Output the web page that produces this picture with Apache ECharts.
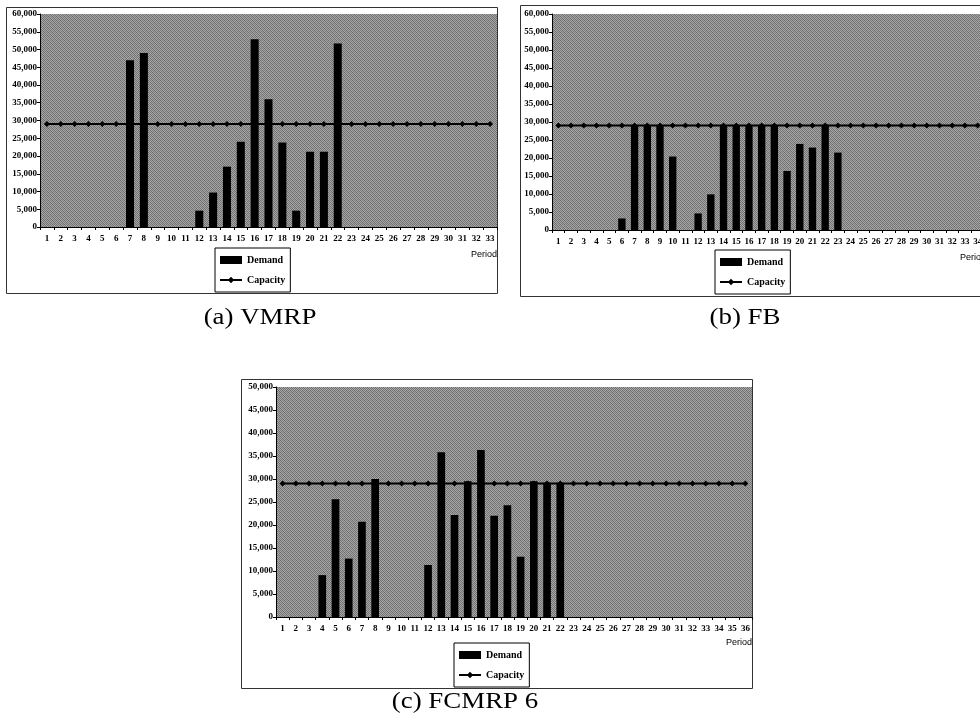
<!DOCTYPE html>
<html>
<head>
<meta charset="utf-8">
<script src="https://cdn.jsdelivr.net/npm/echarts@6/dist/echarts.min.js"></script>
<style>
html,body{margin:0;padding:0;width:980px;height:722px;overflow:hidden;background:#fff;}
#chart{position:absolute;left:0;top:0;width:1000px;height:722px;}
</style>
</head>
<body>
<div id="chart"></div>
<script>
// ---- data ----
const periodsA = ['1','2','3','4','5','6','7','8','9','10','11','12','13','14','15','16','17','18','19','20','21','22','23','24','25','26','27','28','29','30','31','32','33'];
const periodsB = ['1','2','3','4','5','6','7','8','9','10','11','12','13','14','15','16','17','18','19','20','21','22','23','24','25','26','27','28','29','30','31','32','33','34'];
const periodsC = ['1','2','3','4','5','6','7','8','9','10','11','12','13','14','15','16','17','18','19','20','21','22','23','24','25','26','27','28','29','30','31','32','33','34','35','36'];

const demandA = [0,0,0,0,0,0,47000,49000,0,0,0,4600,9700,17000,24000,52900,36000,23800,4600,21200,21200,51700,0,0,0,0,0,0,0,0,0,0,0];
const capacityA = [29000,29000,29000,29000,29000,29000,29000,29000,29000,29000,29000,29000,29000,29000,29000,29000,29000,29000,29000,29000,29000,29000,29000,29000,29000,29000,29000,29000,29000,29000,29000,29000,29000];

const demandB = [0,0,0,0,0,3200,29000,29000,29000,20400,0,4600,9900,29000,29000,29000,29000,29000,16400,23900,22900,29000,21500,0,0,0,0,0,0,0,0,0,0,0];
const capacityB = [29000,29000,29000,29000,29000,29000,29000,29000,29000,29000,29000,29000,29000,29000,29000,29000,29000,29000,29000,29000,29000,29000,29000,29000,29000,29000,29000,29000,29000,29000,29000,29000,29000,29000];

const demandC = [0,0,0,9100,25600,12700,20700,30000,0,0,0,11300,35800,22200,29500,36300,22000,24300,13100,29500,29200,29200,0,0,0,0,0,0,0,0,0,0,0,0,0,0];
const capacityC = [29000,29000,29000,29000,29000,29000,29000,29000,29000,29000,29000,29000,29000,29000,29000,29000,29000,29000,29000,29000,29000,29000,29000,29000,29000,29000,29000,29000,29000,29000,29000,29000,29000,29000,29000,29000];

const yMaxA = 60000, yMaxB = 60000, yMaxC = 50000, yStep = 5000;
const captions = ['(a) VMRP', '(b) FB', '(c) FCMRP 6'];
const axisTitle = 'Period';

// ---- chart ----
const chart = echarts.init(document.getElementById('chart'), null, {renderer:'canvas'});
const serif = 'Liberation Serif';

// halftone-like plot background (regular dither pattern)
const pc = document.createElement('canvas');
pc.width = 4; pc.height = 4;
const pctx = pc.getContext('2d');
const shades = [
  ['#6c6c6c','#a8a8a8','#7a7a7a','#a0a0a0'],
  ['#a4a4a4','#727272','#acacac','#767676'],
  ['#7c7c7c','#a2a2a2','#6e6e6e','#aaaaaa'],
  ['#a6a6a6','#787878','#a0a0a0','#707070']
];
for (let r=0;r<4;r++) for (let c=0;c<4;c++){ pctx.fillStyle = shades[r][c]; pctx.fillRect(c,r,1,1); }
const plotBg = {image: pc, repeat: 'repeat'};

function xAxisFor(idx, cats){
  return {
    type:'category', gridIndex:idx, data:cats, boundaryGap:true,
    axisLine:{show:true, lineStyle:{color:'#000', width:1}},
    axisTick:{show:true, length:3, inside:false, alignWithLabel:false, lineStyle:{color:'#000'}},
    axisLabel:{fontFamily:serif, fontWeight:'bold', fontSize:9, color:'#000', margin:7, interval:0},
    splitLine:{show:false}
  };
}
function yAxisFor(idx, max){
  return {
    type:'value', gridIndex:idx, min:0, max:max, interval:yStep,
    axisLine:{show:true, lineStyle:{color:'#000', width:1}},
    axisTick:{show:true, length:3, inside:false, lineStyle:{color:'#000'}},
    axisLabel:{fontFamily:serif, fontWeight:'bold', fontSize:9, color:'#000', margin:3,
      formatter:v=>v.toLocaleString('en-US')},
    splitLine:{show:false}
  };
}
function barS(idx, data){
  return {name:'Demand', type:'bar', xAxisIndex:idx, yAxisIndex:idx, data:data, barWidth:'58%',
    itemStyle:{color:'#000'}, z:2, animation:false};
}
function lineS(idx, data){
  return {name:'Capacity', type:'line', xAxisIndex:idx, yAxisIndex:idx, data:data,
    symbol:'diamond', symbolSize:6, showSymbol:true,
    lineStyle:{color:'#000', width:2}, itemStyle:{color:'#000'}, z:3, animation:false};
}
function legendFor(left, top){
  return {
    left:left, top:top, orient:'vertical', itemGap:10, itemWidth:22, itemHeight:8,
    padding:[7,5,7,4], borderColor:'#000', borderWidth:1, backgroundColor:'#fff',
    selectedMode:false,
    textStyle:{fontFamily:serif, fontWeight:'bold', fontSize:10, color:'#000'},
    data:[{name:'Demand', icon:'rect'}, {name:'Capacity'}]
  };
}
function frame(x,y,w,h){
  return {type:'rect', shape:{x:x,y:y,width:w,height:h}, style:{fill:null, stroke:'#333', lineWidth:1}, silent:true, z:-10};
}
function caption(text,x,y){
  return {type:'text', x:x, y:y, scaleX:1.12, style:{text:text, font:'24px "Liberation Serif"', fill:'#000', textAlign:'center', textVerticalAlign:'middle'}, silent:true};
}
function ptitle(x,y){
  return {type:'text', x:x, y:y, style:{text:axisTitle, font:'9px "Liberation Sans"', fill:'#000', textAlign:'right', textVerticalAlign:'middle'}, silent:true};
}

const option = {
  animation:false,
  backgroundColor:'#fff',
  grid:[
    {left:40, top:14, width:457, height:213, show:true, backgroundColor:plotBg, borderWidth:0},
    {left:552, top:14, width:432, height:216, show:true, backgroundColor:plotBg, borderWidth:0},
    {left:276, top:387, width:476, height:230, show:true, backgroundColor:plotBg, borderWidth:0}
  ],
  xAxis:[xAxisFor(0, periodsA), xAxisFor(1, periodsB), xAxisFor(2, periodsC)],
  yAxis:[yAxisFor(0, yMaxA), yAxisFor(1, yMaxB), yAxisFor(2, yMaxC)],
  legend:[legendFor(215,248), legendFor(715,250), legendFor(454,643)],
  series:[barS(0,demandA), lineS(0,capacityA), barS(1,demandB), lineS(1,capacityB), barS(2,demandC), lineS(2,capacityC)],
  graphic:[
    frame(6.5,7.5,491,286), frame(520.5,5.5,470,291), frame(241.5,379.5,511,309),
    ptitle(497,255), ptitle(986,258), ptitle(752,643),
    caption(captions[0],260,318), caption(captions[1],745,318), caption(captions[2],465,702)
  ]
};
chart.setOption(option);
</script>
</body>
</html>
